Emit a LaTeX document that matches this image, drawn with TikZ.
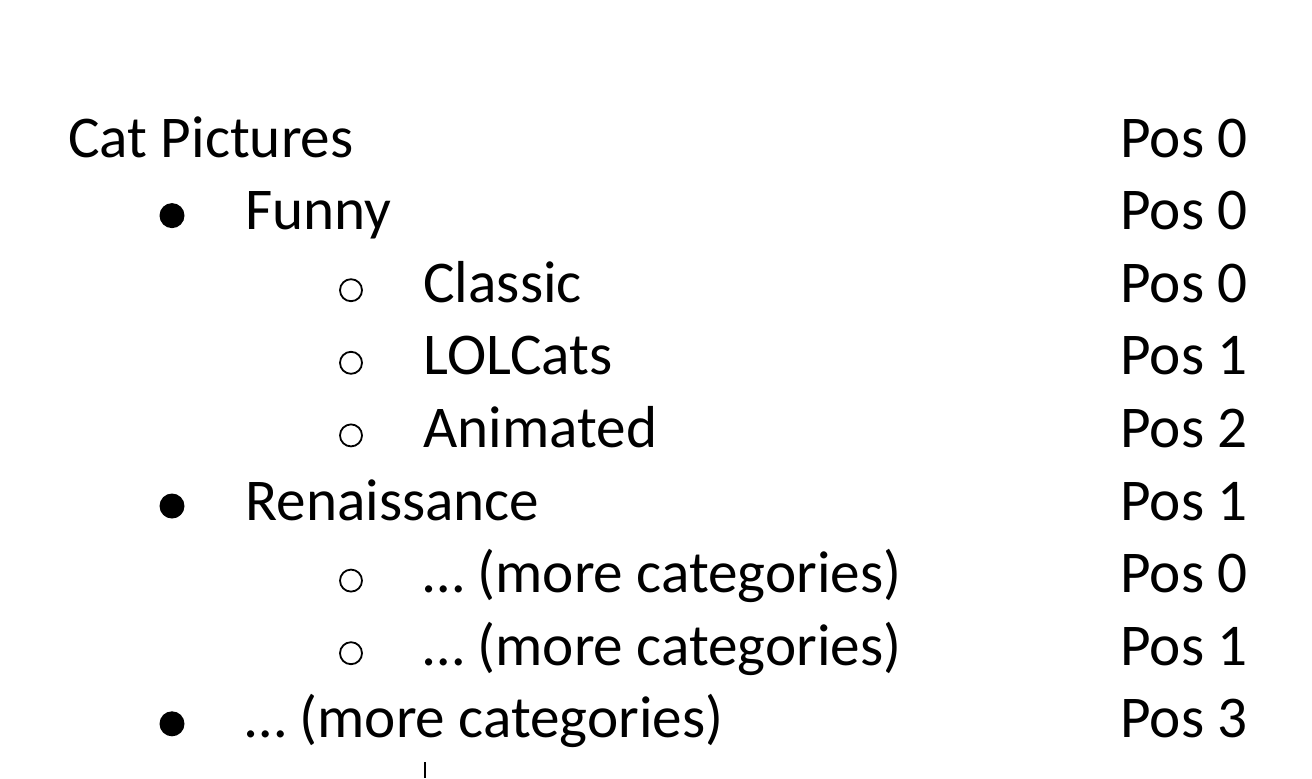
\documentclass[tikz,border=0pt]{standalone}
\usepackage{fontspec}
\setmainfont{Carlito}

\begin{document}
\begin{tikzpicture}[x=0.5pt, y=-0.5pt]
        \pgfmathsetmacro{\rowsep}{72.6}
        \tikzset{
            entry/.style={anchor=base west, inner sep=0pt, font=\fontsize{29.6}{35}\selectfont},
            dot/.style={circle, fill=black, inner sep=0pt, minimum size=12.5pt},
            ring/.style={circle, draw=black, line width=0.9pt, inner sep=0pt, minimum size=11pt}
        }
        \useasboundingbox (0, 0) rectangle (1312, 778);

        \node[entry] (cat) at (68, 157) {Cat Pictures};
        \node[entry] (pcat) at (1120, 157) {Pos 0};

        \node[dot] (d1) at (172, 157 + \rowsep - 14) {};
        \node[entry] (funny) at (245, 157 + \rowsep) {Funny};
        \node[entry] (pfunny) at (1120, 157 + \rowsep) {Pos 0};

        \node[ring] (o1) at (351, 157 + 2 * \rowsep - 12) {};
        \node[entry] (classic) at (423, 157 + 2 * \rowsep) {Classic};
        \node[entry] (pclassic) at (1120, 157 + 2 * \rowsep) {Pos 0};

        \node[ring] (o2) at (351, 157 + 3 * \rowsep - 12) {};
        \node[entry] (lol) at (423, 157 + 3 * \rowsep) {LOLCats};
        \node[entry] (plol) at (1120, 157 + 3 * \rowsep) {Pos 1};

        \node[ring] (o3) at (351, 157 + 4 * \rowsep - 12) {};
        \node[entry] (anim) at (423, 157 + 4 * \rowsep) {Animated};
        \node[entry] (panim) at (1120, 157 + 4 * \rowsep) {Pos 2};

        \node[dot] (d2) at (172, 157 + 5 * \rowsep - 14) {};
        \node[entry] (ren) at (245, 157 + 5 * \rowsep) {Renaissance};
        \node[entry] (pren) at (1120, 157 + 5 * \rowsep) {Pos 1};

        \node[ring] (o4) at (351, 157 + 6 * \rowsep - 12) {};
        \node[entry] (more1) at (423, 157 + 6 * \rowsep) {… (more categories)};
        \node[entry] (pmore1) at (1120, 157 + 6 * \rowsep) {Pos 0};

        \node[ring] (o5) at (351, 157 + 7 * \rowsep - 12) {};
        \node[entry] (more2) at (423, 157 + 7 * \rowsep) {… (more categories)};
        \node[entry] (pmore2) at (1120, 157 + 7 * \rowsep) {Pos 1};

        \node[dot] (d3) at (172, 157 + 8 * \rowsep - 14) {};
        \node[entry] (more3) at (245, 157 + 8 * \rowsep) {… (more categories)};
        \node[entry] (pmore3) at (1120, 157 + 8 * \rowsep) {Pos 3};

        % text cursor
        \draw[line width=0.8pt] (425, 762) -- (425, 778);
    \end{tikzpicture}
\end{document}
